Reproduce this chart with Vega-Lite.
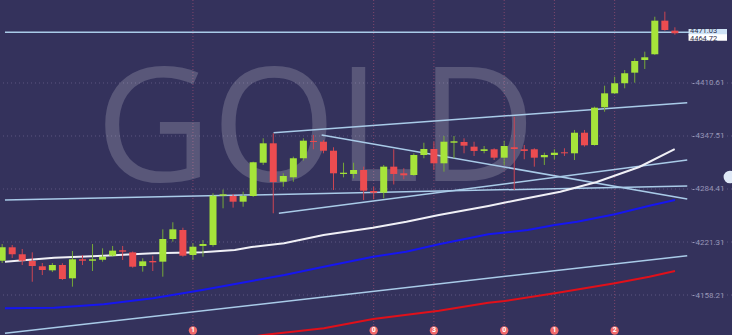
{
  "$schema": "https://vega.github.io/schema/vega-lite/v6.json",
  "width": 732,
  "height": 335,
  "autosize": {"type": "none"},
  "padding": 0,
  "background": "#34325c",
  "config": {"view": {"stroke": null}},
  "datasets": {
    "candles": [
      {"k": -1, "o": 4199.0, "h": 4218.9, "l": 4196.3, "c": 4215.0},
      {"k": 0, "o": 4215.0, "h": 4217.7, "l": 4202.3, "c": 4206.7},
      {"k": 1, "o": 4206.7, "h": 4213.0, "l": 4193.9, "c": 4199.0},
      {"k": 2, "o": 4198.7, "h": 4209.0, "l": 4174.0, "c": 4192.7},
      {"k": 3, "o": 4192.4, "h": 4196.3, "l": 4182.0, "c": 4188.0},
      {"k": 4, "o": 4187.6, "h": 4196.3, "l": 4185.6, "c": 4193.9},
      {"k": 5, "o": 4193.9, "h": 4196.0, "l": 4176.1, "c": 4177.3},
      {"k": 6, "o": 4178.1, "h": 4210.6, "l": 4168.1, "c": 4200.7},
      {"k": 7, "o": 4200.7, "h": 4205.8, "l": 4193.9, "c": 4199.0},
      {"k": 8, "o": 4199.0, "h": 4218.9, "l": 4186.8, "c": 4200.7},
      {"k": 9, "o": 4200.2, "h": 4213.8, "l": 4197.9, "c": 4203.8},
      {"k": 10, "o": 4205.0, "h": 4216.6, "l": 4203.8, "c": 4211.0},
      {"k": 11, "o": 4211.4, "h": 4216.6, "l": 4199.9, "c": 4209.8},
      {"k": 12, "o": 4209.0, "h": 4210.0, "l": 4190.7, "c": 4191.9},
      {"k": 13, "o": 4192.7, "h": 4201.9, "l": 4186.0, "c": 4198.3},
      {"k": 14, "o": 4198.7, "h": 4205.0, "l": 4186.8, "c": 4197.1},
      {"k": 15, "o": 4197.9, "h": 4236.4, "l": 4180.0, "c": 4224.9},
      {"k": 16, "o": 4224.9, "h": 4244.8, "l": 4221.7, "c": 4236.4},
      {"k": 17, "o": 4235.6, "h": 4238.3, "l": 4203.8, "c": 4205.0},
      {"k": 18, "o": 4205.8, "h": 4219.8, "l": 4199.9, "c": 4215.7},
      {"k": 19, "o": 4216.6, "h": 4223.7, "l": 4203.8, "c": 4218.9},
      {"k": 20, "o": 4217.7, "h": 4279.3, "l": 4215.7, "c": 4276.4},
      {"k": 21, "o": 4276.4, "h": 4283.8, "l": 4261.4, "c": 4278.1},
      {"k": 22, "o": 4276.1, "h": 4278.5, "l": 4262.2, "c": 4269.3},
      {"k": 23, "o": 4269.3, "h": 4281.2, "l": 4263.3, "c": 4276.1},
      {"k": 24, "o": 4276.1, "h": 4316.9, "l": 4274.9, "c": 4316.2},
      {"k": 25, "o": 4315.7, "h": 4344.8, "l": 4313.0, "c": 4338.8},
      {"k": 26, "o": 4338.8, "h": 4350.7, "l": 4255.5, "c": 4292.7},
      {"k": 27, "o": 4293.1, "h": 4303.1, "l": 4287.1, "c": 4299.9},
      {"k": 28, "o": 4298.3, "h": 4322.9, "l": 4293.1, "c": 4321.0},
      {"k": 29, "o": 4321.0, "h": 4344.8, "l": 4318.1, "c": 4341.9},
      {"k": 30, "o": 4341.6, "h": 4348.7, "l": 4331.7, "c": 4340.4},
      {"k": 31, "o": 4340.7, "h": 4342.8, "l": 4326.9, "c": 4330.0},
      {"k": 32, "o": 4330.0, "h": 4334.1, "l": 4283.2, "c": 4303.1},
      {"k": 33, "o": 4302.3, "h": 4315.7, "l": 4298.3, "c": 4303.8},
      {"k": 34, "o": 4302.3, "h": 4315.7, "l": 4297.1, "c": 4307.0},
      {"k": 35, "o": 4307.0, "h": 4311.0, "l": 4271.3, "c": 4282.4},
      {"k": 36, "o": 4282.0, "h": 4287.1, "l": 4272.2, "c": 4280.0},
      {"k": 37, "o": 4280.0, "h": 4313.0, "l": 4273.3, "c": 4311.0},
      {"k": 38, "o": 4311.0, "h": 4331.7, "l": 4289.8, "c": 4302.3},
      {"k": 39, "o": 4303.1, "h": 4309.1, "l": 4296.0, "c": 4300.7},
      {"k": 40, "o": 4301.1, "h": 4326.9, "l": 4299.9, "c": 4324.9},
      {"k": 41, "o": 4324.9, "h": 4339.5, "l": 4321.0, "c": 4332.0},
      {"k": 42, "o": 4332.0, "h": 4340.7, "l": 4307.0, "c": 4315.0},
      {"k": 43, "o": 4315.0, "h": 4347.5, "l": 4305.0, "c": 4340.7},
      {"k": 44, "o": 4339.5, "h": 4347.5, "l": 4321.0, "c": 4341.2},
      {"k": 45, "o": 4340.4, "h": 4344.8, "l": 4326.9, "c": 4336.0},
      {"k": 46, "o": 4334.8, "h": 4340.7, "l": 4323.7, "c": 4329.7},
      {"k": 47, "o": 4329.7, "h": 4335.6, "l": 4326.9, "c": 4331.7},
      {"k": 48, "o": 4331.7, "h": 4332.9, "l": 4318.9, "c": 4321.7},
      {"k": 49, "o": 4321.7, "h": 4341.9, "l": 4313.0, "c": 4335.6},
      {"k": 50, "o": 4334.1, "h": 4370.5, "l": 4283.2, "c": 4332.0},
      {"k": 51, "o": 4331.7, "h": 4336.8, "l": 4319.8, "c": 4329.7},
      {"k": 52, "o": 4331.7, "h": 4332.9, "l": 4311.0, "c": 4321.7},
      {"k": 53, "o": 4322.2, "h": 4327.6, "l": 4313.0, "c": 4324.9},
      {"k": 54, "o": 4324.9, "h": 4331.7, "l": 4319.8, "c": 4327.6},
      {"k": 55, "o": 4328.1, "h": 4332.9, "l": 4323.7, "c": 4326.9},
      {"k": 56, "o": 4326.9, "h": 4354.7, "l": 4318.9, "c": 4351.4},
      {"k": 57, "o": 4351.4, "h": 4354.7, "l": 4334.8, "c": 4336.4},
      {"k": 58, "o": 4336.8, "h": 4382.4, "l": 4336.0, "c": 4381.2},
      {"k": 59, "o": 4381.7, "h": 4407.4, "l": 4376.4, "c": 4398.3},
      {"k": 60, "o": 4398.3, "h": 4418.1, "l": 4397.5, "c": 4410.3},
      {"k": 61, "o": 4410.3, "h": 4426.1, "l": 4404.3, "c": 4422.2},
      {"k": 62, "o": 4422.9, "h": 4440.0, "l": 4411.0, "c": 4436.8},
      {"k": 63, "o": 4438.0, "h": 4447.9, "l": 4427.3, "c": 4441.2},
      {"k": 64, "o": 4444.8, "h": 4489.5, "l": 4444.0, "c": 4484.8},
      {"k": 65, "o": 4484.8, "h": 4495.5, "l": 4472.9, "c": 4473.7},
      {"k": 66, "o": 4472.9, "h": 4476.9, "l": 4468.1, "c": 4469.8}
    ],
    "trend": [
      {"id": "h", "k": -0.72, "p": 4471.03}, {"id": "h", "k": 71.19, "p": 4471.03},
      {"id": "up", "k": 26.03, "p": 4351.4}, {"id": "up", "k": 67.23, "p": 4387.2},
      {"id": "down", "k": 30.82, "p": 4348.7}, {"id": "down", "k": 67.23, "p": 4272.5},
      {"id": "low", "k": 26.56, "p": 4255.5}, {"id": "low", "k": 67.23, "p": 4318.9},
      {"id": "flat", "k": -0.72, "p": 4271.3}, {"id": "flat", "k": 67.23, "p": 4288.0},
      {"id": "bottom", "k": -0.72, "p": 4112.6}, {"id": "bottom", "k": 67.23, "p": 4205.0}
    ],
    "ma": [
      {"ma": "w", "k": -0.72, "p": 4197.9}, {"ma": "w", "k": 4.19, "p": 4202.6}, {"ma": "w", "k": 9.11, "p": 4205.0},
      {"ma": "w", "k": 14.02, "p": 4207.9}, {"ma": "w", "k": 18.93, "p": 4209.0}, {"ma": "w", "k": 22.17, "p": 4211.8},
      {"ma": "w", "k": 23.84, "p": 4215.4}, {"ma": "w", "k": 27.08, "p": 4219.8}, {"ma": "w", "k": 31.01, "p": 4229.7},
      {"ma": "w", "k": 35.92, "p": 4238.3}, {"ma": "w", "k": 39.26, "p": 4245.5}, {"ma": "w", "k": 42.5, "p": 4253.5},
      {"ma": "w", "k": 47.42, "p": 4264.2}, {"ma": "w", "k": 50.36, "p": 4271.3}, {"ma": "w", "k": 54.59, "p": 4281.2},
      {"ma": "w", "k": 58.22, "p": 4292.7}, {"ma": "w", "k": 62.45, "p": 4310.6}, {"ma": "w", "k": 65.98, "p": 4332.0},
      {"ma": "b", "k": -0.72, "p": 4142.4}, {"ma": "b", "k": 4.19, "p": 4143.1}, {"ma": "b", "k": 9.11, "p": 4147.1},
      {"ma": "b", "k": 14.02, "p": 4154.3}, {"ma": "b", "k": 18.93, "p": 4164.2}, {"ma": "b", "k": 23.84, "p": 4174.9},
      {"ma": "b", "k": 27.11, "p": 4182.0}, {"ma": "b", "k": 31.04, "p": 4191.9}, {"ma": "b", "k": 35.95, "p": 4203.8},
      {"ma": "b", "k": 39.23, "p": 4209.8}, {"ma": "b", "k": 42.5, "p": 4218.6}, {"ma": "b", "k": 47.42, "p": 4230.5},
      {"ma": "b", "k": 51.35, "p": 4235.6}, {"ma": "b", "k": 54.03, "p": 4241.6}, {"ma": "b", "k": 56.27, "p": 4245.5},
      {"ma": "b", "k": 60.02, "p": 4254.3}, {"ma": "b", "k": 63.46, "p": 4264.5}, {"ma": "b", "k": 66.01, "p": 4271.3},
      {"ma": "r", "k": 18.93, "p": 4098.7}, {"ma": "r", "k": 24.99, "p": 4110.6}, {"ma": "r", "k": 31.04, "p": 4118.6},
      {"ma": "r", "k": 35.95, "p": 4129.6}, {"ma": "r", "k": 42.5, "p": 4139.5}, {"ma": "r", "k": 47.42, "p": 4149.0},
      {"ma": "r", "k": 49.06, "p": 4151.1}, {"ma": "r", "k": 54.03, "p": 4160.2}, {"ma": "r", "k": 60.02, "p": 4172.1},
      {"ma": "r", "k": 63.46, "p": 4180.0}, {"ma": "r", "k": 66.01, "p": 4186.8}
    ],
    "levels": [
      {"p": 4158.21}, {"p": 4221.31}, {"p": 4284.41}, {"p": 4347.51}, {"p": 4410.61}
    ],
    "events": [
      {"k": 18, "n": "1", "p": 4116.0},
      {"k": 36, "n": "0", "p": 4116.0},
      {"k": 42, "n": "3", "p": 4116.0},
      {"k": 49, "n": "0", "p": 4116.0},
      {"k": 54, "n": "1", "p": 4116.0},
      {"k": 60, "n": "2", "p": 4116.0}
    ],
    "tags": [
      {"label": "4471.03", "p": 4471.03},
      {"label": "4464.72", "p": 4464.72}
    ]
  },
  "layer": [
    {
      "data": {"name": "levels"},
      "mark": {"type": "rule", "color": "#5d5681", "strokeWidth": 1, "strokeDash": [1, 3]},
      "encoding": {
        "y": {"field": "p", "type": "quantitative", "title": null,
          "scale": {"domain": [4110.6, 4509.4], "nice": false, "zero": false},
          "axis": {"orient": "right", "offset": -40, "values": [4158.21, 4221.31, 4284.41, 4347.51, 4410.61],
            "format": ".2f", "labelColor": "#9a98b8", "labelFont": "Roboto", "labelFontSize": 8,
            "tickSize": 2, "tickColor": "#9a98b8", "ticks": true, "labels": true, "labelPadding": 1,
            "domain": false, "grid": false, "title": null, "labelOverlap": false}}
      }
    },
    {
      "data": {"name": "events"},
      "mark": {"type": "rule", "color": "#8c4a6e", "strokeWidth": 1, "strokeDash": [1, 2], "opacity": 0.85},
      "encoding": {
        "x": {"field": "k", "type": "quantitative", "scale": {"domain": [-0.717, 71.19], "nice": false, "zero": false}, "axis": null}
      }
    },
    {
      "data": {"values": [{"t": "GOLD", "k": 30.23, "p": 4293.9}]},
      "mark": {"type": "text", "font": "Open Sans", "fontWeight": 400, "fontSize": 160, "align": "center", "baseline": "alphabetic", "color": "#ffffff", "opacity": 0.18},
      "encoding": {
        "x": {"field": "k", "type": "quantitative", "scale": {"domain": [-0.717, 71.19], "nice": false, "zero": false}, "axis": null},
        "y": {"field": "p", "type": "quantitative", "title": null, "scale": {"domain": [4110.6, 4509.4], "nice": false, "zero": false}},
        "text": {"field": "t"}
      }
    },
    {
      "data": {"name": "trend"},
      "mark": {"type": "line", "color": "#a9cbe8", "strokeWidth": 1.5, "clip": true},
      "encoding": {
        "x": {"field": "k", "type": "quantitative", "scale": {"domain": [-0.717, 71.19], "nice": false, "zero": false}, "axis": null},
        "y": {"field": "p", "type": "quantitative", "title": null, "scale": {"domain": [4110.6, 4509.4], "nice": false, "zero": false}},
        "detail": {"field": "id"}
      }
    },
    {
      "data": {"name": "ma"},
      "mark": {"type": "line", "strokeWidth": 2, "clip": true},
      "encoding": {
        "x": {"field": "k", "type": "quantitative", "scale": {"domain": [-0.717, 71.19], "nice": false, "zero": false}, "axis": null},
        "y": {"field": "p", "type": "quantitative", "title": null, "scale": {"domain": [4110.6, 4509.4], "nice": false, "zero": false}},
        "color": {"field": "ma", "type": "nominal", "scale": {"domain": ["w", "b", "r"], "range": ["#f0f0f6", "#1616f0", "#e0101a"]}, "legend": null}
      }
    },
    {
      "data": {"name": "candles"},
      "mark": {"type": "rule", "strokeWidth": 1},
      "encoding": {
        "x": {"field": "k", "type": "quantitative", "scale": {"domain": [-0.717, 71.19], "nice": false, "zero": false}, "axis": null},
        "y": {"field": "l", "type": "quantitative", "title": null, "scale": {"domain": [4110.6, 4509.4], "nice": false, "zero": false}},
        "y2": {"field": "h"},
        "color": {"condition": {"test": "datum.c >= datum.o", "value": "#75a838"}, "value": "#cc4552"}
      }
    },
    {
      "data": {"name": "candles"},
      "mark": {"type": "bar", "width": 7},
      "encoding": {
        "x": {"field": "k", "type": "quantitative", "scale": {"domain": [-0.717, 71.19], "nice": false, "zero": false}, "axis": null},
        "y": {"field": "o", "type": "quantitative", "title": null, "scale": {"domain": [4110.6, 4509.4], "nice": false, "zero": false}},
        "y2": {"field": "c"},
        "color": {"condition": {"test": "datum.c >= datum.o", "value": "#a6e43a"}, "value": "#ec4c50"}
      }
    },
    {
      "data": {"name": "events"},
      "mark": {"type": "circle", "size": 70, "opacity": 1, "color": "#f06a6a"},
      "encoding": {
        "x": {"field": "k", "type": "quantitative", "scale": {"domain": [-0.717, 71.19], "nice": false, "zero": false}, "axis": null},
        "y": {"field": "p", "type": "quantitative", "title": null, "scale": {"domain": [4110.6, 4509.4], "nice": false, "zero": false}}
      }
    },
    {
      "data": {"name": "events"},
      "mark": {"type": "text", "fontSize": 7, "fontWeight": "bold", "font": "Roboto", "color": "#ffffff", "align": "center", "baseline": "middle"},
      "encoding": {
        "x": {"field": "k", "type": "quantitative", "scale": {"domain": [-0.717, 71.19], "nice": false, "zero": false}, "axis": null},
        "y": {"field": "p", "type": "quantitative", "title": null, "scale": {"domain": [4110.6, 4509.4], "nice": false, "zero": false}},
        "text": {"field": "n"}
      }
    },
    {
      "data": {"name": "tags"},
      "mark": {"type": "rule", "strokeWidth": 6.5, "strokeCap": "butt"},
      "encoding": {
        "x": {"datum": 67.36, "type": "quantitative", "scale": {"domain": [-0.717, 71.19], "nice": false, "zero": false}, "axis": null},
        "x2": {"datum": 71.19},
        "y": {"field": "p", "type": "quantitative", "title": null, "scale": {"domain": [4110.6, 4509.4], "nice": false, "zero": false}},
        "color": {"condition": {"test": "datum.label == '4471.03'", "value": "#cfe3f6"}, "value": "#ffffff"}
      }
    },
    {
      "data": {"name": "tags"},
      "transform": [{"filter": "datum.label == '4471.03'"}],
      "mark": {"type": "text", "fontSize": 7.5, "font": "Roboto", "color": "#2a2a48", "align": "left", "baseline": "middle", "dy": -1.5},
      "encoding": {
        "x": {"datum": 67.5, "type": "quantitative", "scale": {"domain": [-0.717, 71.19], "nice": false, "zero": false}, "axis": null},
        "y": {"field": "p", "type": "quantitative", "title": null, "scale": {"domain": [4110.6, 4509.4], "nice": false, "zero": false}},
        "text": {"field": "label"}
      }
    },
    {
      "data": {"name": "tags"},
      "transform": [{"filter": "datum.label == '4464.72'"}],
      "mark": {"type": "text", "fontSize": 7.5, "font": "Roboto", "color": "#2a2a48", "align": "left", "baseline": "middle", "dy": 1.5},
      "encoding": {
        "x": {"datum": 67.5, "type": "quantitative", "scale": {"domain": [-0.717, 71.19], "nice": false, "zero": false}, "axis": null},
        "y": {"field": "p", "type": "quantitative", "title": null, "scale": {"domain": [4110.6, 4509.4], "nice": false, "zero": false}},
        "text": {"field": "label"}
      }
    },
    {
      "data": {"values": [{"k": 71.48, "p": 4298.7}]},
      "mark": {"type": "circle", "size": 160, "opacity": 1, "color": "#dfe9f7"},
      "encoding": {
        "x": {"field": "k", "type": "quantitative", "scale": {"domain": [-0.717, 71.19], "nice": false, "zero": false}, "axis": null},
        "y": {"field": "p", "type": "quantitative", "title": null, "scale": {"domain": [4110.6, 4509.4], "nice": false, "zero": false}}
      }
    }
  ]
}
